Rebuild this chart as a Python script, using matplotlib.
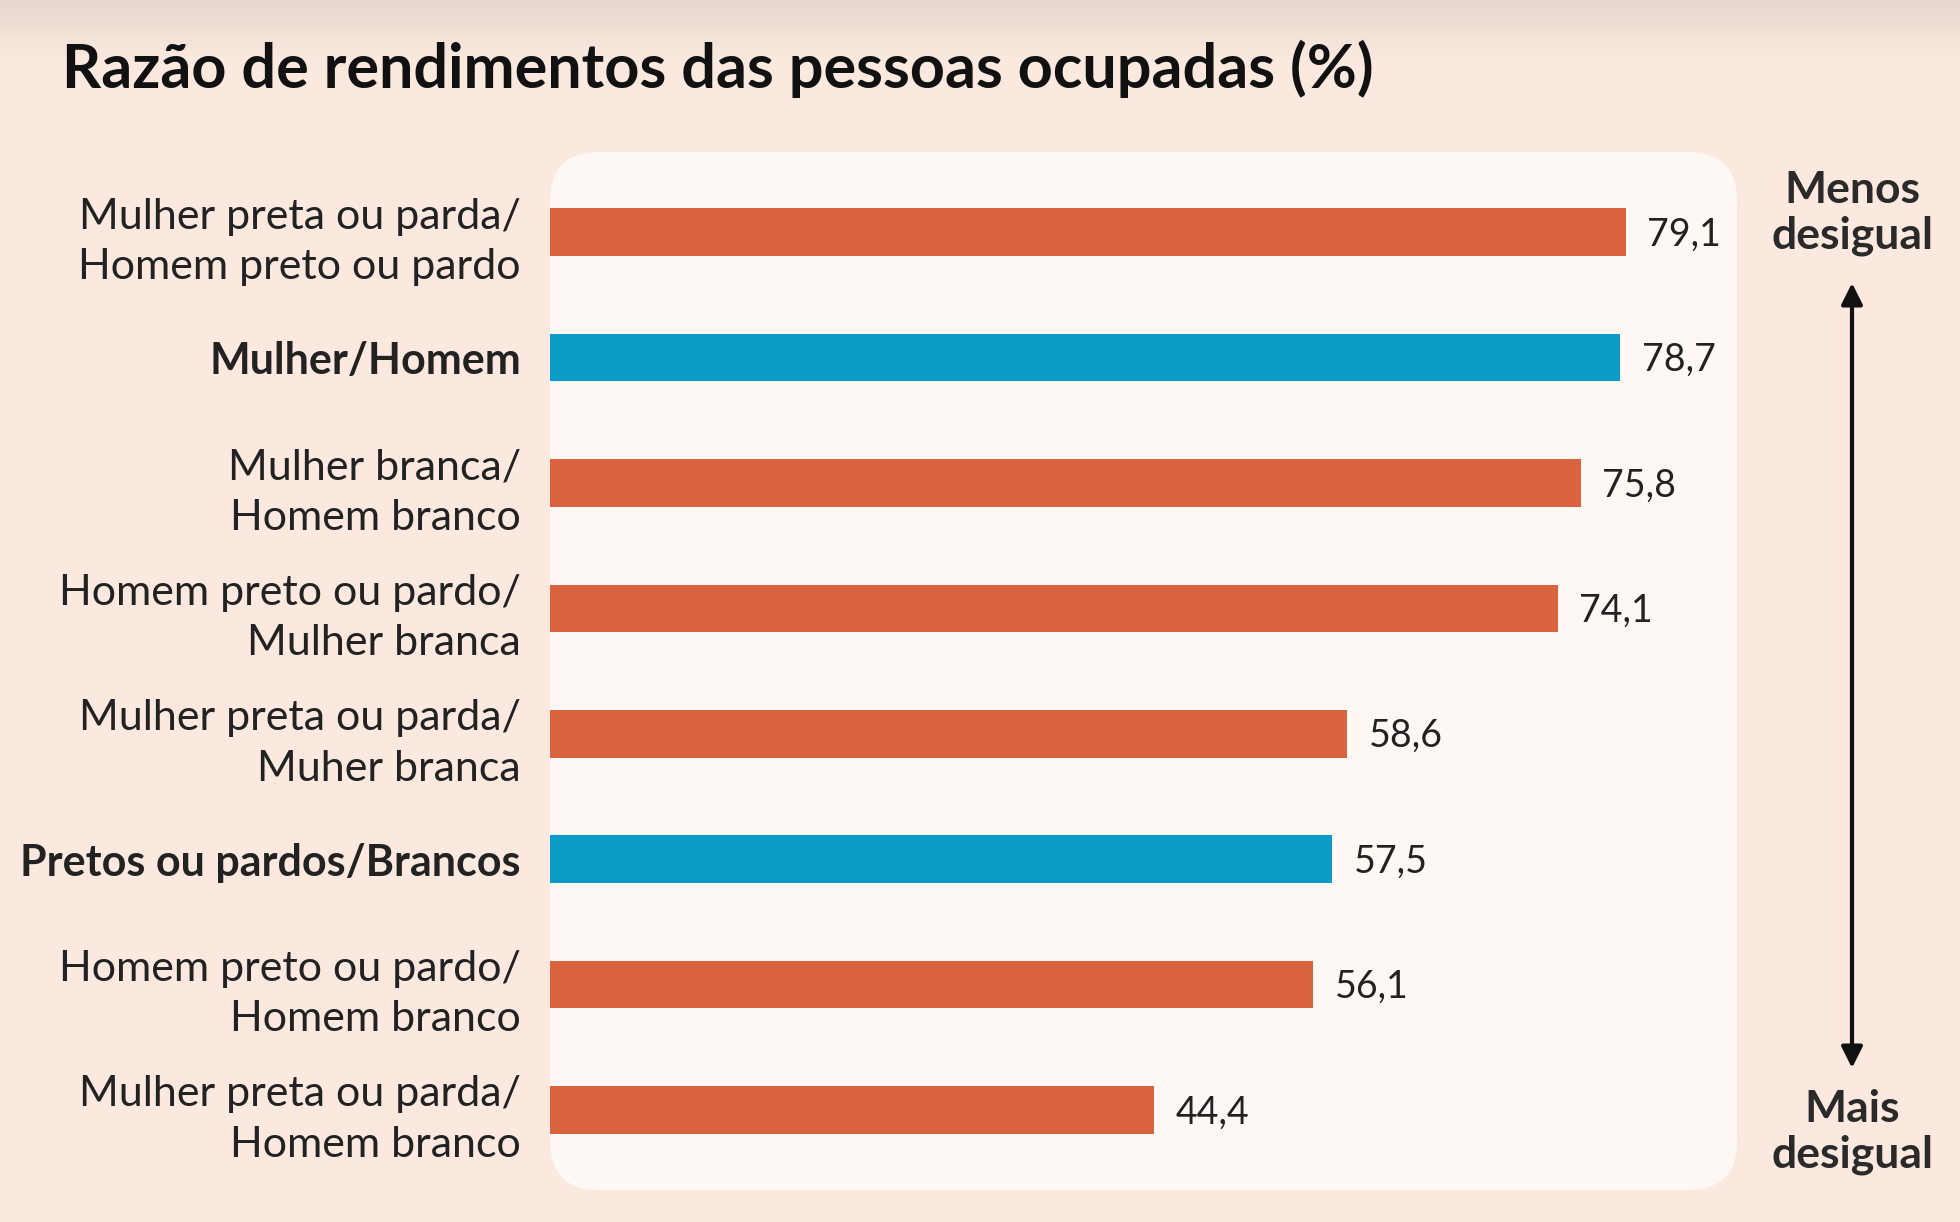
import numpy as np
import matplotlib.pyplot as plt
from matplotlib.patches import FancyBboxPatch
from matplotlib.colors import LinearSegmentedColormap

plt.rcParams['font.family'] = ['Lato', 'DejaVu Sans']

categorias = ['Mulher preta ou parda/\nHomem preto ou pardo',
              'Mulher/Homem',
              'Mulher branca/\nHomem branco',
              'Homem preto ou pardo/\nMulher branca',
              'Mulher preta ou parda/\nMuher branca',
              'Pretos ou pardos/Brancos',
              'Homem preto ou pardo/\nHomem branco',
              'Mulher preta ou parda/\nHomem branco']
valores = [79.1, 78.7, 75.8, 74.1, 58.6, 57.5, 56.1, 44.4]
destaque = [False, True, False, False, False, True, False, False]

laranja = '#da6340'
azul = '#0a9bc7'
fundo = '#fbe9df'
painel = '#fef8f4'

W, H = 1960, 1222
fig = plt.figure(figsize=(W / 100, H / 100), dpi=100, facecolor=fundo)

# faixa escura no topo
bg = fig.add_axes([0, 0, 1, 1], zorder=-5)
bg.axis('off')
grad = np.ones((H, 1))
grad[:60, 0] = np.linspace(0, 1, 60)
cm = LinearSegmentedColormap.from_list('g', ['#e5d8ce', fundo])
bg.imshow(grad, aspect='auto', cmap=cm, extent=[0, 1, 0, 1], vmin=0, vmax=1)

# painel branco arredondado
x0, x1 = 550 / W, 1737 / W
y0, y1 = 1 - 1190 / H, 1 - 152 / H
fig.patches.append(FancyBboxPatch((x0, y0), x1 - x0, y1 - y0,
                                  boxstyle='round,pad=0,rounding_size=0.025',
                                  transform=fig.transFigure, facecolor=painel,
                                  edgecolor='none', zorder=-1,
                                  mutation_aspect=W / H))

ax = fig.add_axes([x0, y0, x1 - x0, y1 - y0])
ax.set_facecolor('none')
ypos = np.arange(len(valores))
cores = [azul if d else laranja for d in destaque]
ax.barh(ypos, valores, height=0.38, color=cores)
ax.set_xlim(0, 87.3)
ax.set_ylim(7.64, -0.64)
for s in ax.spines.values():
    s.set_visible(False)
ax.set_xticks([])
ax.set_yticks(ypos)
ax.set_yticklabels(categorias, fontsize=31, color='#222222', linespacing=1.4)
for lab, d in zip(ax.get_yticklabels(), destaque):
    if d:
        lab.set_fontweight('bold')
ax.tick_params(axis='y', length=0, pad=21)

for y, v in zip(ypos, valores):
    ax.text(v + 1.6, y + 0.02, f'{v:.1f}'.replace('.', ','), va='center',
            ha='left', fontsize=27, color='#222222')

fig.text(62 / W, 1 - 69 / H, 'Razão de rendimentos das pessoas ocupadas (%)',
         fontsize=44, fontweight='bold', ha='left', va='center', color='#111111')

xa = 1852 / W
fig.text(xa, 1 - 213 / H, 'Menos\ndesigual', fontsize=32, fontweight='bold',
         ha='center', va='center', linespacing=1.15, color='#2a2a2a')
fig.text(xa, 1 - 1132 / H, 'Mais\ndesigual', fontsize=32, fontweight='bold',
         ha='center', va='center', linespacing=1.15, color='#2a2a2a')
fig.add_artist(plt.Annotation('', xy=(xa, 1 - 283 / H), xytext=(xa, 1 - 1068 / H),
                              xycoords='figure fraction', textcoords='figure fraction',
                              arrowprops=dict(arrowstyle='<|-|>', color='#111111',
                                              lw=3, mutation_scale=32,
                                              shrinkA=0, shrinkB=0)))

fig.savefig('out.png', dpi=100, facecolor=fundo)
